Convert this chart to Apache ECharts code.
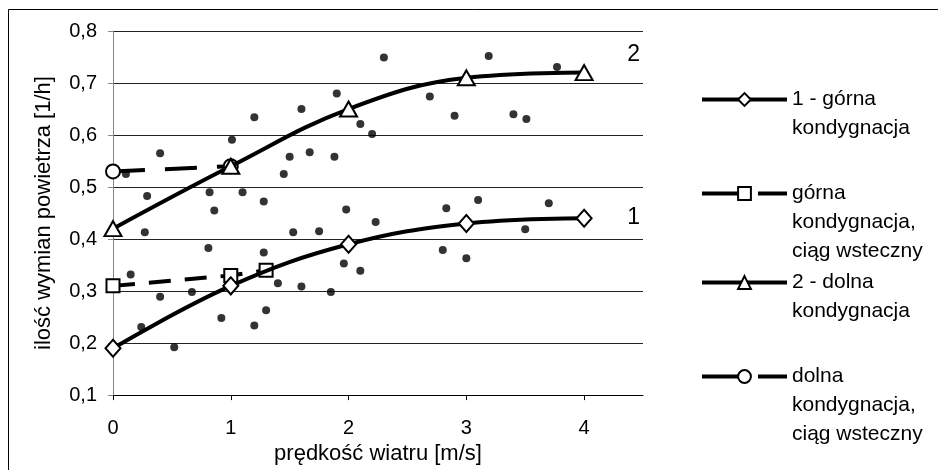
<!DOCTYPE html>
<html lang="pl">
<head>
<meta charset="UTF-8">
<title>ilość wymian powietrza</title>
<script src="https://cdn.jsdelivr.net/npm/echarts@6/dist/echarts.min.js"></script>
<style>
	html,body{margin:0;padding:0;width:938px;height:470px;background:#fff;}
	#chart{width:938px;height:470px;}
</style>
</head>
<body>
<div id="chart"></div>
<script>
	// prędkość wiatru dla linii trendu
	var windX = [0, 1, 2, 3, 4];
	var upperFloor = [0.19, 0.31, 0.39, 0.43, 0.44];      // 1 - górna kondygnacja
	var lowerFloor = [0.42, 0.54, 0.65, 0.71, 0.72];      // 2 - dolna kondygnacja
	var upperBackX = [0, 1, 1.3];
	var upperBack = [0.31, 0.33, 0.34];                   // górna, ciąg wsteczny
	var lowerBackX = [0, 1];
	var lowerBack = [0.53, 0.54];                         // dolna, ciąg wsteczny

	// punkty pomiarowe
	var pointsX = [0.11, 0.40, 0.29, 1.01, 1.20, 0.82, 1.10, 1.45, 1.50, 1.60, 1.67, 1.88, 1.90, 2.10, 2.20, 2.30,
		2.69, 2.90, 3.19, 3.40, 3.51, 3.77,
		0.86, 1.28, 0.27, 1.53, 1.75, 1.98, 2.23, 0.81, 1.28, 0.15, 0.40, 0.67, 1.40, 1.60, 1.96, 2.10, 1.85,
		0.24, 0.92, 1.20, 1.30, 0.52, 2.83, 3.10, 3.70, 3.50, 2.80, 3.00];
	var pointsY = [0.525, 0.565, 0.483, 0.591, 0.634, 0.49, 0.49, 0.525, 0.558, 0.65, 0.567, 0.558, 0.68, 0.621, 0.602, 0.749,
		0.674, 0.637, 0.752, 0.640, 0.631, 0.731,
		0.455, 0.472, 0.413, 0.413, 0.415, 0.457, 0.433, 0.383, 0.374, 0.332, 0.289, 0.298, 0.315, 0.309, 0.353, 0.339, 0.298,
		0.231, 0.248, 0.234, 0.263, 0.192, 0.459, 0.475, 0.469, 0.419, 0.379, 0.363];

	var names = [
		'1 - górna\nkondygnacja',
		'górna\nkondygnacja,\nciąg wsteczny',
		'2 - dolna\nkondygnacja',
		'dolna\nkondygnacja,\nciąg wsteczny'
	];
	// opisy krzywych przy prawym brzegu
	var curveLabels = ['1', '2'];
	var curveLabelPos = [[4.42, 0.442], [4.42, 0.754]];

	function pairs (xs, ys) {
		var out = [];
		for (var i = 0; i < xs.length; i++) {
			out.push([xs[i], ys[i]]);
		}
		return out;
	}

	var font = 'Liberation Sans, Arial, sans-serif';
	var markerStyle = {color: '#fff', borderColor: '#000', borderWidth: 2};

	// osobna legenda dla każdej pozycji; puste linie u góry,
	// żeby ikona stała na wysokości pierwszej linii tekstu
	function legendFor (name, top, dashed) {
		var lines = name.split('\n').length;
		var pad = '';
		for (var i = 1; i < lines; i++) pad += '\n';
		return {
			data: [name],
			orient: 'vertical',
			left: 700,
			top: top,
			padding: 0,
			itemWidth: 85,
			itemHeight: 16,
			itemGap: 0,
			selectedMode: false,
			lineStyle: dashed ? {width: 4, type: [36, 20]} : {width: 4},
			itemStyle: {borderWidth: 2},
			formatter: function (n) { return pad + n; },
			textStyle: {
				fontFamily: font,
				fontSize: 21,
				lineHeight: 29,
				color: '#000'
			}
		};
	}

	function labelPoint (text, pos) {
		return {
			symbol: 'rect',
			symbolSize: 1,
			itemStyle: {color: 'rgba(0,0,0,0)'},
			label: {show: true, position: 'inside', formatter: text, fontFamily: font, fontSize: 23, color: '#000'},
			data: [{coord: pos}]
		};
	}

	var myChart = echarts.init(document.getElementById('chart'), null, {renderer: 'canvas'});
	var options = {
		animation: false,
		backgroundColor: '#fff',
		textStyle: {fontFamily: font},
		graphic: [{
			type: 'rect',
			shape: {x: 8.5, y: 9.5, width: 940, height: 470},
			style: {fill: 'none', stroke: '#000', lineWidth: 1},
			silent: true
		}],
		legend: [
			legendFor(names[0], 56, false),
			legendFor(names[1], 121, true),
			legendFor(names[2], 239, false),
			legendFor(names[3], 304, true)
		],
		grid: {
			left: 113,
			right: 295,
			top: 31,
			bottom: 72,
			containLabel: false
		},
		xAxis: {
			type: 'value',
			min: 0,
			max: 4.5,
			interval: 1,
			name: 'prędkość wiatru [m/s]',
			nameLocation: 'middle',
			nameGap: 46,
			nameTextStyle: {fontFamily: font, fontSize: 22, color: '#000'},
			axisLine: {lineStyle: {color: '#000', width: 1}},
			axisTick: {show: true, inside: false, length: 5, lineStyle: {color: '#000'}, customValues: [0, 1, 2, 3, 4]},
			axisLabel: {
				fontFamily: font, fontSize: 20, color: '#000', margin: 23,
				customValues: [0, 1, 2, 3, 4]
			},
			splitLine: {show: false}
		},
		yAxis: {
			type: 'value',
			min: 0.1,
			max: 0.8,
			interval: 0.1,
			name: 'ilość wymian powietrza [1/h]',
			nameLocation: 'middle',
			nameGap: 58,
			nameTextStyle: {fontFamily: font, fontSize: 22, color: '#000'},
			axisLine: {show: true, lineStyle: {color: '#888', width: 1}},
			axisTick: {show: true, length: 5, lineStyle: {color: '#888'}},
			axisLabel: {
				fontFamily: font, fontSize: 20, color: '#000', margin: 16,
				formatter: function (v) { return v.toFixed(1).replace('.', ','); }
			},
			splitLine: {show: true, lineStyle: {color: '#222', width: 1}}
		},
		series: [
			{
				name: 'pomiary',
				type: 'scatter',
				symbol: 'circle',
				symbolSize: 8,
				itemStyle: {color: '#000'},
				data: pairs(pointsX, pointsY),
				z: 1
			},
			{
				name: names[0],
				type: 'line',
				smooth: 0.4,
				symbol: 'diamond',
				symbolSize: [15, 17],
				itemStyle: markerStyle,
				lineStyle: {color: '#000', width: 4},
				data: pairs(windX, upperFloor),
				markPoint: labelPoint(curveLabels[0], curveLabelPos[0]),
				z: 3
			},
			{
				name: names[1],
				type: 'line',
				symbol: 'rect',
				symbolSize: 13,
				itemStyle: markerStyle,
				lineStyle: {color: '#000', width: 4, type: [22, 14]},
				data: pairs(upperBackX, upperBack),
				z: 2
			},
			{
				name: names[2],
				type: 'line',
				smooth: 0.4,
				symbol: 'triangle',
				symbolSize: [17, 15],
				itemStyle: markerStyle,
				lineStyle: {color: '#000', width: 4},
				data: pairs(windX, lowerFloor),
				markPoint: labelPoint(curveLabels[1], curveLabelPos[1]),
				z: 3
			},
			{
				name: names[3],
				type: 'line',
				symbol: 'circle',
				symbolSize: 14,
				itemStyle: markerStyle,
				lineStyle: {color: '#000', width: 4, type: [32, 20]},
				data: pairs(lowerBackX, lowerBack),
				z: 2
			}
		]
	};
	myChart.setOption(options);
</script>
</body>
</html>
